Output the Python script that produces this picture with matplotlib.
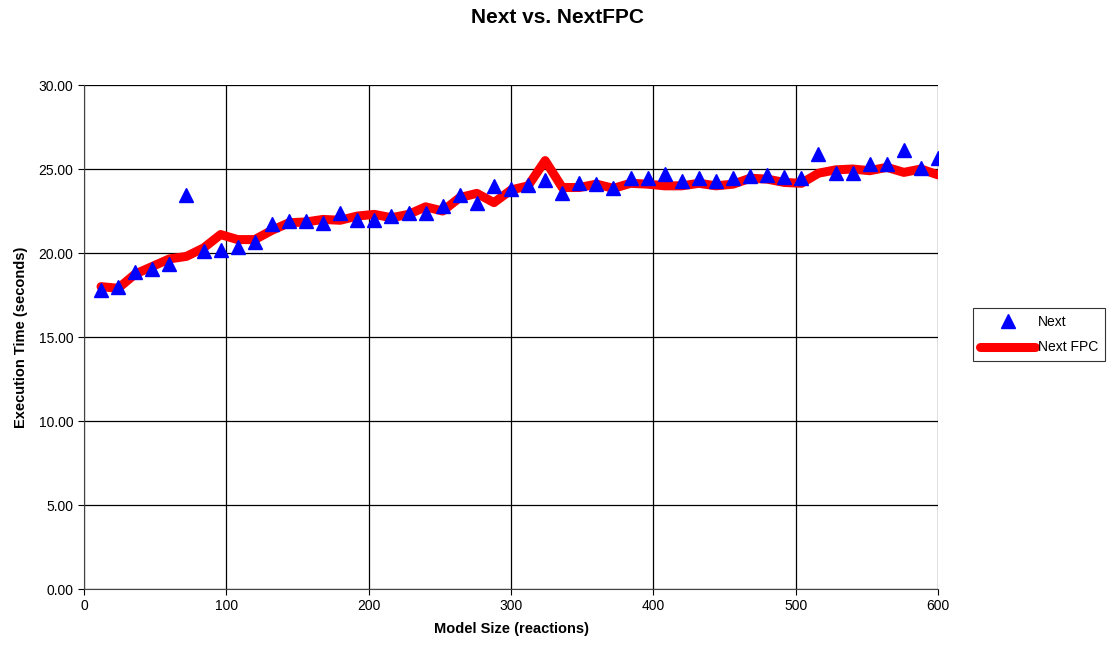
import matplotlib
matplotlib.use("Agg")
import matplotlib.pyplot as plt

plt.rcParams['font.family'] = ['Liberation Sans', 'DejaVu Sans']

# Model size (reactions)
model_size = [12, 24, 36, 48, 60, 72, 84, 96, 108, 120,
              132, 144, 156, 168, 180, 192, 204, 216, 228, 240,
              252, 264, 276, 288, 300, 312, 324, 336, 348, 360,
              372, 384, 396, 408, 420, 432, 444, 456, 468, 480,
              492, 504, 516, 528, 540, 552, 564, 576, 588, 600]

# Execution time (seconds)
next_times = [17.8, 18.0, 18.85, 19.05, 19.35, 23.45, 20.1, 20.2, 20.35, 20.65,
              21.7, 21.9, 21.9, 21.8, 22.4, 21.95, 21.95, 22.2, 22.4, 22.4,
              22.8, 23.45, 23.0, 24.0, 23.8, 24.05, 24.35, 23.6, 24.15, 24.1,
              23.85, 24.45, 24.45, 24.7, 24.3, 24.45, 24.3, 24.45, 24.6, 24.65,
              24.5, 24.45, 25.9, 24.75, 24.75, 25.3, 25.3, 26.15, 25.05, 25.65]

next_fpc_times = [18.0, 17.9, 18.75, 19.2, 19.65, 19.8, 20.3, 21.1, 20.8, 20.8,
                  21.35, 21.8, 21.85, 22.0, 21.95, 22.2, 22.3, 22.1, 22.3, 22.75,
                  22.5, 23.3, 23.55, 23.0, 23.75, 24.0, 25.5, 23.9, 23.9, 24.1,
                  23.85, 24.15, 24.1, 24.0, 24.0, 24.15, 24.0, 24.1, 24.45, 24.4,
                  24.2, 24.15, 24.75, 24.95, 25.0, 24.9, 25.1, 24.8, 25.0, 24.65]

fig = plt.figure(figsize=(11.15, 6.49), dpi=100)
ax = fig.add_axes([0.0753, 0.0924, 0.766, 0.7766])

ax.plot(model_size, next_fpc_times, color="#ff0000", linewidth=6.5,
        solid_capstyle="round", solid_joinstyle="round", label="Next FPC", zorder=2)
ax.plot(model_size, next_times, linestyle="none", marker="^", markersize=10.5,
        color="#0000ff", label="Next", zorder=3)

ax.set_xlim(0, 600)
ax.set_ylim(0, 30)
ax.set_xticks(range(0, 601, 100))
ax.set_yticks(range(0, 31, 5))
ax.set_yticklabels([f"{v:.2f}" for v in range(0, 31, 5)])
ax.grid(True, color="black", linewidth=0.9)
ax.set_axisbelow(True)
for side in ["top", "right"]:
    ax.spines[side].set_visible(False)
ax.spines["left"].set_color("#444444")
ax.spines["bottom"].set_color("#444444")
ax.tick_params(direction="out", length=4, labelsize=10)

ax.set_xlabel("Model Size (reactions)", fontsize=10.5, fontweight="bold", labelpad=6)
ax.set_ylabel("Execution Time (seconds)", fontsize=10.5, fontweight="bold", labelpad=8)
fig.suptitle("Next vs. NextFPC", fontsize=15, fontweight="bold", y=0.987)

handles, labels = ax.get_legend_handles_labels()
leg = fig.legend(handles[::-1], labels[::-1], loc="center left",
                 bbox_to_anchor=(0.8726, 0.484), frameon=True, fancybox=False,
                 edgecolor="black", fontsize=10, handlelength=4.0,
                 handletextpad=0.15, borderpad=0.5, labelspacing=0.8,
                 borderaxespad=0)
leg.get_frame().set_linewidth(0.8)

fig.savefig("out.png", dpi=100)
